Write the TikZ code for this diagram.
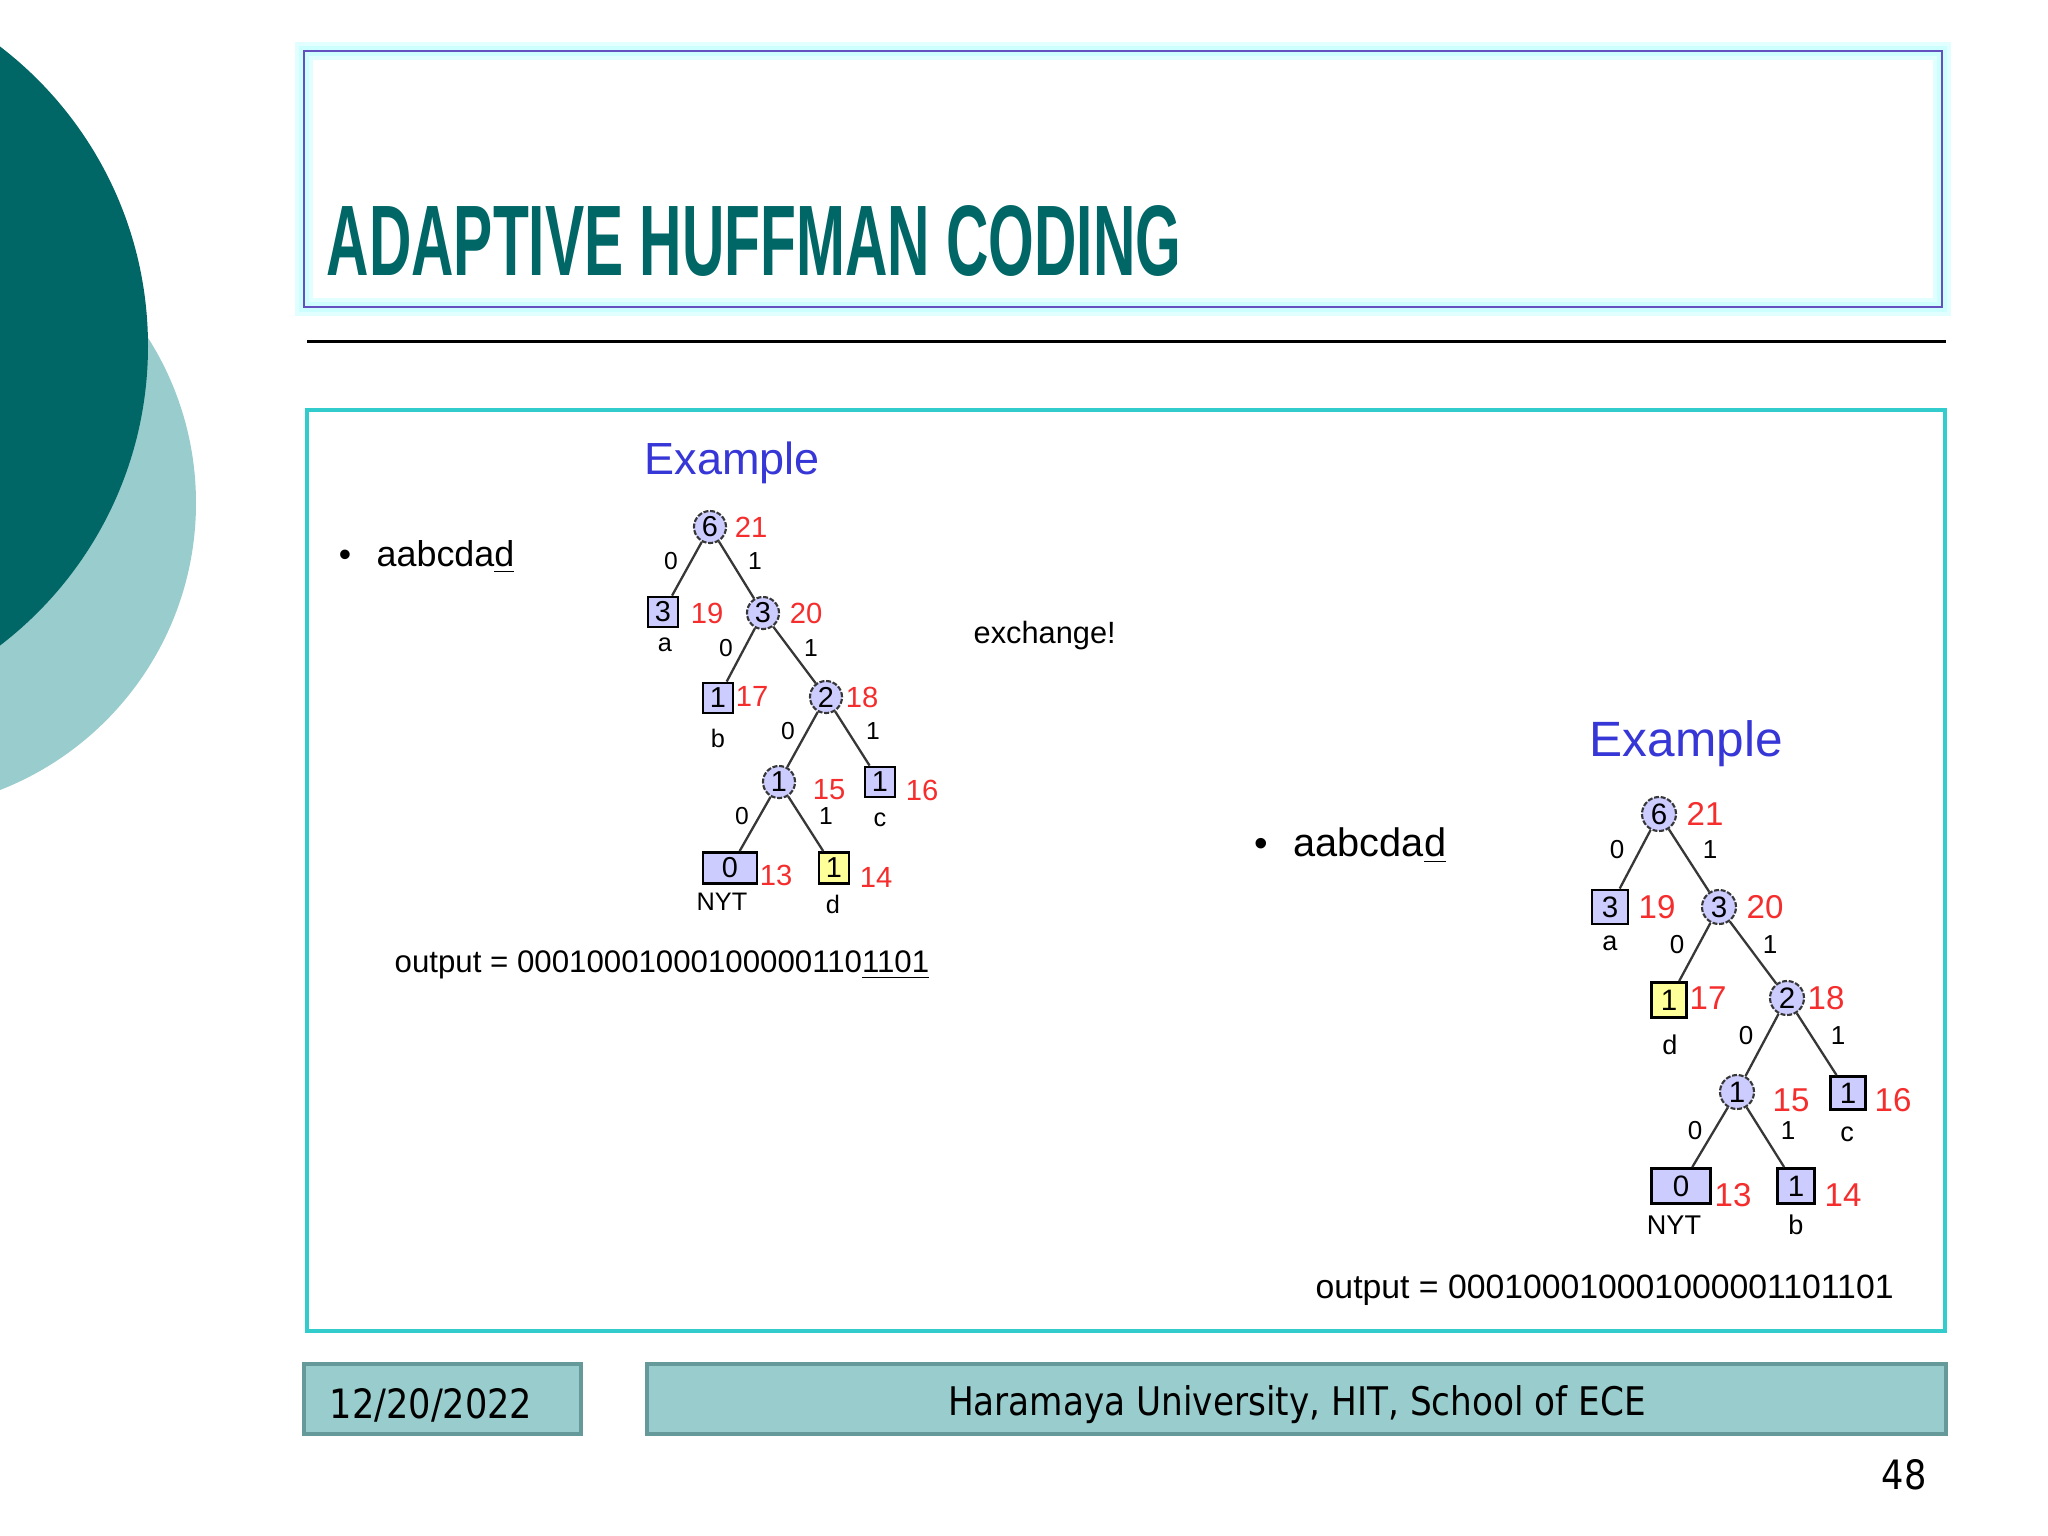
\documentclass[tikz,border=0pt]{standalone}
\usepackage{fontspec}
\usepackage{graphicx}
\setmainfont{Liberation Sans}
\newfontfamily\footfont{DejaVu Sans}
\newcommand{\myfs}[1]{\fontsize{#1}{#1}\selectfont}
\definecolor{dteal}{RGB}{0,102,102}
\definecolor{lteal}{RGB}{153,204,204}
\definecolor{fborder}{RGB}{102,153,153}
\definecolor{cyanbox}{RGB}{51,204,204}
\definecolor{glowc}{RGB}{205,255,255}
\definecolor{glowd}{RGB}{225,255,255}
\definecolor{tborder}{RGB}{100,80,190}
\definecolor{exblue}{RGB}{55,55,215}
\definecolor{wred}{RGB}{245,45,45}
\definecolor{lav}{RGB}{204,204,255}
\definecolor{yel}{RGB}{255,255,153}
\definecolor{cgray}{RGB}{55,55,55}
\tikzset{
  lcirc/.style={circle, fill=lav, draw=cgray, line width=0.6pt, dash pattern=on 1.4pt off 0.5pt, inner sep=0pt, minimum size=0.32cm, font=\myfs{8.2pt}},
  rcirc/.style={circle, fill=lav, draw=cgray, line width=0.6pt, dash pattern=on 1.4pt off 0.5pt, inner sep=0pt, minimum size=0.34cm, font=\myfs{8.4pt}},
  lsq/.style={rectangle, fill=lav, draw=black, line width=0.8pt, inner sep=0pt, minimum width=0.30cm, minimum height=0.30cm, font=\myfs{8.2pt}},
  rsq/.style={rectangle, fill=lav, draw=black, line width=0.8pt, inner sep=0pt, minimum width=0.36cm, minimum height=0.34cm, font=\myfs{8.4pt}},
  lwt/.style={text=wred, inner sep=0pt, font=\myfs{8.3pt}},
  rwt/.style={text=wred, inner sep=0pt, font=\myfs{9.4pt}},
  lel/.style={inner sep=0pt, font=\myfs{7pt}},
  rel/.style={inner sep=0pt, font=\myfs{7.4pt}},
  lsym/.style={inner sep=0pt, font=\myfs{7.2pt}},
  rsym/.style={inner sep=0pt, font=\myfs{7.7pt}},
  edge/.style={draw=cgray, line width=0.65pt},
  fbox/.style={fill=lteal, draw=fborder, line width=1.3pt},
  ftext/.style={inner sep=0pt, font=\footfont\myfs{10pt}},
}
\begin{document}
\begin{tikzpicture}[x=0.01cm, y=-0.01cm]
\useasboundingbox (0,0) rectangle (2048,1536);
\fill[white] (0,0) rectangle (2048,1536);
\begin{scope}
\clip (0,0) rectangle (2048,1536);
\fill[lteal] (-112,503) circle (308);
\fill[dteal] (-229,346) circle (377);
\end{scope}

% title box
\draw[glowd, line width=5pt] (304,51) rectangle (1942,307);
\draw[glowc, line width=2.6pt] (304,51) rectangle (1942,307);
\draw[tborder, line width=0.8pt] (304,51) rectangle (1942,307);
\node[anchor=base west, inner sep=0pt, text=dteal] (title) at (326,275)
  {\resizebox{243pt}{19.9pt}{\bfseries ADAPTIVE HUFFMAN CODING}};
\draw[black, line width=0.85pt] (307,341) -- (1946,341);

% content box
\draw[cyanbox, line width=1.2pt] (307,410) rectangle (1945,1331);

% ---------- left part ----------
\node[anchor=base, inner sep=0pt, font=\myfs{10pt}] (lbul) at (345,566) {•};
\node[anchor=base west, inner sep=0pt, font=\myfs{10.2pt}] (lseq) at (376,566) {aabcda\underline{d}};
\node[anchor=base west, inner sep=0pt, text=exblue, font=\myfs{12.8pt}] (lex) at (644,474) {Example};
\node[anchor=base west, inner sep=0pt, font=\myfs{8.75pt}] (exch) at (973,643) {exchange!};
\node[anchor=base west, inner sep=0pt, font=\myfs{8.88pt}] (lout) at (394,972) {output = 00010001000100000110\underline{1101}};

\node[lcirc] (L6) at (710,527) {6};
\node[lwt] (L21) at (751,527) {21};
\node[lsq] (La3) at (663,612) {3};
\node[lwt] (L19) at (707,613) {19};
\node[lsym] (La) at (665,645) {a};
\node[lcirc] (Lc3) at (763,613) {3};
\node[lwt] (L20) at (806,613) {20};
\node[lsq] (Lb1) at (718,698) {1};
\node[lwt] (L17) at (752,696) {17};
\node[lsym] (Lb) at (718,738) {b};
\node[lcirc] (Lc2) at (826,697) {2};
\node[lwt] (L18) at (862,697) {18};
\node[lcirc] (Lc1) at (779,782) {1};
\node[lwt] (L15) at (829,790) {15};
\node[lsq] (Lcc) at (880,782) {1};
\node[lwt] (L16) at (922,790) {16};
\node[lsym] (Lc) at (880,820) {c};
\node[lsq, minimum width=0.54cm, minimum height=0.31cm] (LNYT) at (730,868) {0};
\node[lwt] (L13) at (776,875) {13};
\node[lsym] (LNYTl) at (722,902) {NYT};
\node[lsq, fill=yel, minimum height=0.31cm] (Ld1) at (834,868) {1};
\node[lwt] (L14) at (876,877) {14};
\node[lsym] (Ld) at (833,904) {d};

\draw[edge] (L6) -- (La3);
\draw[edge] (L6) -- (Lc3);
\draw[edge] (Lc3) -- (Lb1);
\draw[edge] (Lc3) -- (Lc2);
\draw[edge] (Lc2) -- (Lc1);
\draw[edge] (Lc2) -- (Lcc);
\draw[edge] (Lc1) -- (LNYT);
\draw[edge] (Lc1) -- (Ld1);

\node[lel] (le1) at (671,561) {0};
\node[lel] (le2) at (755,561) {1};
\node[lel] (le3) at (726,648) {0};
\node[lel] (le4) at (811,648) {1};
\node[lel] (le5) at (788,731) {0};
\node[lel] (le6) at (873,731) {1};
\node[lel] (le7) at (742,816) {0};
\node[lel] (le8) at (826,816) {1};

% ---------- right part ----------
\node[anchor=base, inner sep=0pt, font=\myfs{11pt}] (rbul) at (1261,856) {•};
\node[anchor=base west, inner sep=0pt, font=\myfs{11.3pt}] (rseq) at (1293,856) {aabcda\underline{d}};
\node[anchor=base west, inner sep=0pt, text=exblue, font=\myfs{14.1pt}] (rex) at (1589,756) {Example};
\node[anchor=base west, inner sep=0pt, font=\myfs{9.6pt}] (rout) at (1315,1298) {output = 000100010001000001101101};

\node[rcirc] (R6) at (1659,814) {6};
\node[rwt] (R21) at (1705,814) {21};
\node[rsq] (Ra3) at (1610,907) {3};
\node[rwt] (R19) at (1657,907) {19};
\node[rsym] (Ra) at (1610,943) {a};
\node[rcirc] (Rc3) at (1719,907) {3};
\node[rwt] (R20) at (1765,907) {20};
\node[rsq, fill=yel, minimum width=0.35cm, minimum height=0.35cm] (Rd1) at (1669,1000) {1};
\node[rwt] (R17) at (1708,998) {17};
\node[rsym] (Rd) at (1670,1045) {d};
\node[rcirc] (Rc2) at (1787,998) {2};
\node[rwt] (R18) at (1826,998) {18};
\node[rcirc] (Rc1) at (1737,1092) {1};
\node[rwt] (R15) at (1791,1100) {15};
\node[rsq, minimum width=0.35cm, minimum height=0.33cm] (Rcc) at (1848,1093) {1};
\node[rwt] (R16) at (1893,1100) {16};
\node[rsym] (Rc) at (1847,1134) {c};
\node[rsq, minimum width=0.59cm, minimum height=0.35cm] (RNYT) at (1681,1186) {0};
\node[rwt] (R13) at (1733,1195) {13};
\node[rsym] (RNYTl) at (1674,1225) {NYT};
\node[rsq, minimum width=0.37cm, minimum height=0.35cm] (Rb1) at (1796,1186) {1};
\node[rwt] (R14) at (1843,1195) {14};
\node[rsym] (Rb) at (1796,1225) {b};

\draw[edge] (R6) -- (Ra3);
\draw[edge] (R6) -- (Rc3);
\draw[edge] (Rc3) -- (Rd1);
\draw[edge] (Rc3) -- (Rc2);
\draw[edge] (Rc2) -- (Rc1);
\draw[edge] (Rc2) -- (Rcc);
\draw[edge] (Rc1) -- (RNYT);
\draw[edge] (Rc1) -- (Rb1);

\node[rel] (re1) at (1617,850) {0};
\node[rel] (re2) at (1710,850) {1};
\node[rel] (re3) at (1677,945) {0};
\node[rel] (re4) at (1770,945) {1};
\node[rel] (re5) at (1746,1036) {0};
\node[rel] (re6) at (1838,1036) {1};
\node[rel] (re7) at (1695,1131) {0};
\node[rel] (re8) at (1788,1131) {1};

% ---------- footer ----------
\draw[fbox] (304,1364) rectangle (581,1434);
\draw[fbox] (647,1364) rectangle (1946,1434);
\node[ftext, anchor=west] (date) at (329,1405) {\scalebox{1}[1.15]{12/20/2022}};
\node[ftext, font=\footfont\myfs{9.75pt}] (uni) at (1297,1405) {\scalebox{1}[1.15]{Haramaya University, HIT, School of ECE}};
\node[ftext] (pnum) at (1904,1475) {\scalebox{1}[1.15]{48}};
\end{tikzpicture}
\end{document}
